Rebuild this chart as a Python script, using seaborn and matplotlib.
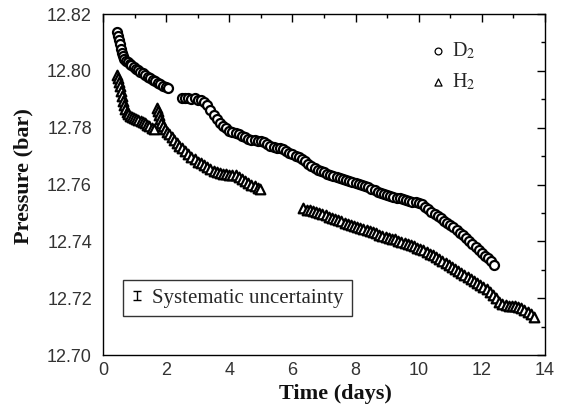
import numpy as np
import pandas as pd
import matplotlib
matplotlib.use("Agg")
import matplotlib.pyplot as plt
from matplotlib.ticker import MultipleLocator, FormatStrFormatter
from matplotlib.legend_handler import HandlerErrorbar
import seaborn as sns

# ---------------- data ----------------
d2_t1 = [0.45, 0.48, 0.51, 0.54, 0.57, 0.60, 0.64, 0.68, 0.73, 0.78, 0.84, 0.90, 0.97,
         1.04, 1.11, 1.18, 1.26, 1.34, 1.42, 1.50, 1.58, 1.66, 1.74, 1.82, 1.90, 1.98, 2.05]
d2_p1 = [12.8135, 12.8122, 12.8108, 12.8093, 12.8078, 12.8064, 12.8052, 12.8043, 12.8036,
         12.8030, 12.8024, 12.8019, 12.8013, 12.8007, 12.8002, 12.7997, 12.7991, 12.7986,
         12.7980, 12.7974, 12.7968, 12.7963, 12.7958, 12.7952, 12.7948, 12.7944, 12.7941]

d2_t2 = [2.5, 2.6, 2.7, 2.8, 2.9, 3.0, 3.1, 3.2, 3.3, 3.4, 3.5, 3.6, 3.7, 3.8, 3.9, 4.0,
         4.1, 4.2, 4.3, 4.4, 4.5, 4.6, 4.7, 4.8, 4.9, 5.0, 5.1, 5.2, 5.3, 5.4, 5.5, 5.6,
         5.7, 5.8, 5.9, 6.0, 6.1, 6.2, 6.3, 6.4, 6.5, 6.6, 6.7, 6.8, 6.9, 7.0, 7.1, 7.2,
         7.3, 7.4, 7.5, 7.6, 7.7, 7.8, 7.9, 8.0, 8.1, 8.2, 8.3, 8.4, 8.5, 8.6, 8.7, 8.8,
         8.9, 9.0, 9.1, 9.2, 9.3, 9.4, 9.5, 9.6, 9.7, 9.8, 9.9, 10.0, 10.1, 10.2, 10.3,
         10.4, 10.5, 10.6, 10.7, 10.8, 10.9, 11.0, 11.1, 11.2, 11.3, 11.4, 11.5, 11.6,
         11.7, 11.8, 11.9, 12.0, 12.1, 12.2, 12.3, 12.4]
d2_p2 = [12.7905, 12.7903, 12.7905, 12.7901, 12.7903, 12.7899, 12.7897, 12.7892, 12.7880,
         12.7862, 12.7845, 12.7830, 12.7818, 12.7807, 12.7798, 12.7790, 12.7785, 12.7781,
         12.7776, 12.7771, 12.7766, 12.7761, 12.7757, 12.7755, 12.7754, 12.7752, 12.7748,
         12.7742, 12.7735, 12.7732, 12.7730, 12.7728, 12.7724, 12.7718, 12.7712, 12.7706,
         12.7701, 12.7697, 12.7690, 12.7682, 12.7673, 12.7664, 12.7657, 12.7652, 12.7648,
         12.7643, 12.7638, 12.7633, 12.7630, 12.7627, 12.7624, 12.7620, 12.7617, 12.7614,
         12.7610, 12.7607, 12.7603, 12.7599, 12.7595, 12.7590, 12.7585, 12.7580, 12.7575,
         12.7570, 12.7566, 12.7563, 12.7560, 12.7557, 12.7554, 12.7551, 12.7549, 12.7546,
         12.7543, 12.7540, 12.7538, 12.7535, 12.7530, 12.7522, 12.7513, 12.7505, 12.7497,
         12.7489, 12.7481, 12.7473, 12.7466, 12.7459, 12.7451, 12.7441, 12.7431, 12.7421,
         12.7411, 12.7401, 12.7391, 12.7381, 12.7371, 12.7360, 12.7350, 12.7340, 12.7332,
         12.7318]

h2_t1 = [0.45, 0.48, 0.51, 0.54, 0.57, 0.60, 0.63, 0.66, 0.70, 0.75, 0.80, 0.86, 0.92,
         0.98, 1.05, 1.12, 1.19, 1.26, 1.33, 1.40, 1.47, 1.55, 1.60]
h2_p1 = [12.7985, 12.7975, 12.7962, 12.7946, 12.7930, 12.7912, 12.7895, 12.7880, 12.7866,
         12.7855, 12.7848, 12.7842, 12.7838, 12.7834, 12.7830, 12.7826, 12.7822, 12.7819,
         12.7815, 12.7810, 12.7805, 12.7800, 12.7797]

h2_t2 = [1.72, 1.75, 1.78, 1.81, 1.85, 1.90, 1.96, 2.03, 2.10, 2.18, 2.26, 2.34, 2.42,
         2.50, 2.60, 2.70, 2.80, 2.90, 3.00, 3.10, 3.20, 3.30, 3.40, 3.50, 3.60, 3.70,
         3.80, 3.90, 4.00, 4.10, 4.20, 4.30, 4.40, 4.50, 4.60, 4.70, 4.80, 4.90, 4.98]
h2_p2 = [12.7868, 12.7858, 12.7845, 12.7830, 12.7816, 12.7805, 12.7796, 12.7786, 12.7776,
         12.7766, 12.7756, 12.7746, 12.7737, 12.7727, 12.7717, 12.7707, 12.7698, 12.7689,
         12.7680, 12.7674, 12.7668, 12.7661, 12.7654, 12.7648, 12.7643, 12.7640, 12.7638,
         12.7636, 12.7635, 12.7634, 12.7632, 12.7625, 12.7618, 12.7612, 12.7607, 12.7600,
         12.7593, 12.7587, 12.7583]

h2_t3 = [6.35, 6.45, 6.55, 6.65, 6.75, 6.85, 6.95, 7.05, 7.15, 7.25, 7.35, 7.45, 7.55,
         7.65, 7.75, 7.85, 7.95, 8.05, 8.15, 8.25, 8.35, 8.45, 8.55, 8.65, 8.75, 8.85,
         8.95, 9.05, 9.15, 9.25, 9.35, 9.45, 9.55, 9.65, 9.75, 9.85, 9.95, 10.05, 10.15,
         10.25, 10.35, 10.45, 10.55, 10.65, 10.75, 10.85, 10.95, 11.05, 11.15, 11.25,
         11.35, 11.45, 11.55, 11.65, 11.75, 11.85, 11.95, 12.05, 12.15, 12.25, 12.35,
         12.45, 12.55, 12.65, 12.75, 12.85, 12.95, 13.05, 13.15, 13.25, 13.35, 13.45,
         13.55, 13.65]
h2_p3 = [12.7518, 12.7512, 12.7510, 12.7508, 12.7504, 12.7500, 12.7496, 12.7491, 12.7487,
         12.7483, 12.7478, 12.7474, 12.7470, 12.7466, 12.7462, 12.7458, 12.7454, 12.7450,
         12.7446, 12.7442, 12.7439, 12.7435, 12.7432, 12.7428, 12.7424, 12.7420, 12.7416,
         12.7413, 12.7410, 12.7407, 12.7402, 12.7398, 12.7394, 12.7390, 12.7386, 12.7382,
         12.7378, 12.7373, 12.7368, 12.7363, 12.7357, 12.7351, 12.7345, 12.7338, 12.7331,
         12.7324, 12.7317, 12.7310, 12.7303, 12.7296, 12.7289, 12.7282, 12.7275, 12.7268,
         12.7261, 12.7254, 12.7247, 12.7240, 12.7231, 12.7222, 12.7212, 12.7200, 12.7188,
         12.7178, 12.7175, 12.7174, 12.7173, 12.7172, 12.7170, 12.7167, 12.7160, 12.7152,
         12.7143, 12.7135]

x_ticks = [0, 2, 4, 6, 8, 10, 12, 14]
y_ticks = [12.70, 12.72, 12.74, 12.76, 12.78, 12.80, 12.82]

# ---------------- build table ----------------
d2 = pd.DataFrame({"t": d2_t1 + d2_t2, "P": d2_p1 + d2_p2, "gas": "D2"})
h2 = pd.DataFrame({"t": h2_t1 + h2_t2 + h2_t3, "P": h2_p1 + h2_p2 + h2_p3, "gas": "H2"})

# ---------------- plot ----------------
sns.set_style("white")
plt.rcParams["mathtext.fontset"] = "stix"
plt.rcParams["font.family"] = ["Liberation Serif", "DejaVu Serif"]

fig = plt.figure(figsize=(5.67, 4.13), dpi=100)
ax = fig.add_axes([0.1817, 0.1404, 0.9612 - 0.1817, 0.9661 - 0.1404])

sns.scatterplot(data=d2, x="t", y="P", marker="o", s=42, color="white",
                edgecolor="black", linewidth=1.6, ax=ax, zorder=3)
sns.scatterplot(data=h2, x="t", y="P", marker="^", s=48, color="white",
                edgecolor="black", linewidth=1.6, ax=ax, zorder=3)

ax.set_xlim(0, 14)
ax.set_ylim(12.70, 12.82)
ax.set_xticks(x_ticks)
ax.set_yticks(y_ticks)
ax.xaxis.set_minor_locator(MultipleLocator(1))
ax.yaxis.set_minor_locator(MultipleLocator(0.01))
ax.yaxis.set_major_formatter(FormatStrFormatter("%.2f"))
ax.tick_params(which="both", direction="in", top=True, right=True,
               color="black", width=1.0)
ax.tick_params(which="major", length=6, labelsize=13, labelcolor="#333333")
ax.tick_params(axis="y", which="major", pad=8)
ax.tick_params(axis="x", which="major", pad=5)
ax.tick_params(which="minor", length=3)
for lab in ax.get_xticklabels() + ax.get_yticklabels():
    lab.set_family("Liberation Sans")
for sp in ax.spines.values():
    sp.set_color("black")
    sp.set_linewidth(1.0)

ax.set_xlabel("Time (days)", fontsize=16, fontweight="bold", color="#111111")
ax.set_ylabel("Pressure (bar)", fontsize=16, fontweight="bold", color="#111111")
ax.xaxis.set_label_coords(0.525, -0.085)
ax.yaxis.set_label_coords(-0.158, 0.525)

# legend for the gases
hd = ax.scatter([], [], marker="o", s=24, facecolor="white", edgecolor="black", linewidth=0.9)
hh = ax.scatter([], [], marker="^", s=26, facecolor="white", edgecolor="black", linewidth=0.9)
leg1 = ax.legend([hd, hh], ["D$_2$", "H$_2$"], loc="upper left",
                 bbox_to_anchor=(0.738, 0.922), frameon=False, fontsize=14.5,
                 handletextpad=0.3, labelspacing=0.5, handlelength=0.85,
                 borderpad=0.0, borderaxespad=0.0)
ax.add_artist(leg1)

# systematic uncertainty box
eb = ax.errorbar([np.nan], [np.nan], yerr=[0.0012], fmt="none", ecolor="black",
                 elinewidth=1.0, capsize=3, capthick=1.0)
leg2 = ax.legend([eb], ["Systematic uncertainty"], loc="lower left",
                 bbox_to_anchor=(0.045, 0.114), frameon=True, fancybox=False,
                 fontsize=15, handlelength=0.55, handletextpad=0.45,
                 borderpad=0.4, borderaxespad=0.0, edgecolor="black",
                 handler_map={type(eb): HandlerErrorbar(yerr_size=0.2)})
leg2.get_frame().set_linewidth(1.0)

fig.savefig("out.png", dpi=100, facecolor="white")
